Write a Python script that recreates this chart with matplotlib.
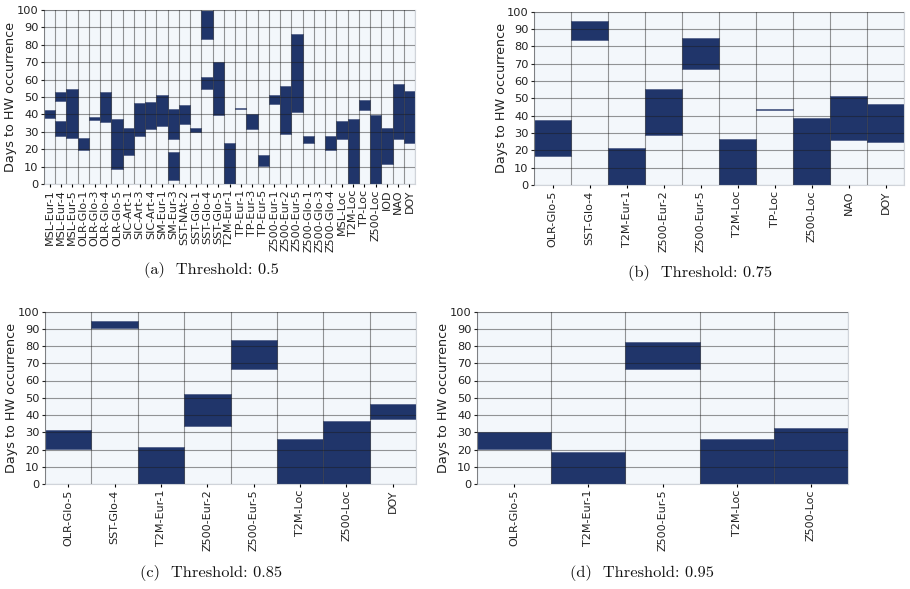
## plot of lead-time windows per predictor, four thresholds
import matplotlib
matplotlib.use('Agg')
import matplotlib.pyplot as plt
import numpy as np

# (a) threshold 0.5
labels_a = ['MSL-Eur-1', 'MSL-Eur-4', 'MSL-Eur-5', 'OLR-Glo-1', 'OLR-Glo-3',
            'OLR-Glo-4', 'OLR-Glo-5', 'SIC-Art-1', 'SIC-Art-3', 'SIC-Art-4',
            'SM-Eur-1', 'SM-Eur-3', 'SST-NAt-2', 'SST-Glo-1', 'SST-Glo-4',
            'SST-Glo-5', 'T2M-Eur-1', 'TP-Eur-1', 'TP-Eur-3', 'TP-Eur-5',
            'Z500-Eur-1', 'Z500-Eur-2', 'Z500-Eur-5', 'Z500-Glo-1', 'Z500-Glo-3',
            'Z500-Glo-4', 'MSL-Loc', 'T2M-Loc', 'TP-Loc', 'Z500-Loc',
            'IOD', 'NAO', 'DOY']
spans_a = [
    [(38, 42.5)],
    [(27.7, 36.4), (47.5, 53)],
    [(26.7, 54.4)],
    [(19.6, 26.6)],
    [(36.6, 38.3)],
    [(35.6, 53)],
    [(8.6, 37.4)],
    [(16.8, 32.4)],
    [(27.7, 46.4)],
    [(31.6, 47.3)],
    [(33.6, 51)],
    [(2.4, 18.2), (25.8, 43.3)],
    [(34.6, 45.2)],
    [(29.6, 32.4)],
    [(54.6, 61.3), (83.6, 100)],
    [(39.8, 70.3)],
    [(0, 23.4)],
    [(43, 43.6)],
    [(31.7, 40.2)],
    [(10.6, 16.5)],
    [(45.7, 51.3)],
    [(28.6, 56.3)],
    [(41.5, 86.4)],
    [(23.5, 27.4)],
    [],
    [(19.4, 27.4)],
    [(25.6, 36.4)],
    [(0, 37.4)],
    [(42.6, 48.3)],
    [(0, 39.5)],
    [(11.6, 32.4)],
    [(25.8, 57.3)],
    [(23.7, 53.4)],
]

# (b) threshold 0.75
labels_b = ['OLR-Glo-5', 'SST-Glo-4', 'T2M-Eur-1', 'Z500-Eur-2', 'Z500-Eur-5',
            'T2M-Loc', 'TP-Loc', 'Z500-Loc', 'NAO', 'DOY']
spans_b = [
    [(16.8, 37.5)],
    [(83.7, 94.6)],
    [(0, 21.3)],
    [(28.7, 55.4)],
    [(66.7, 84.6)],
    [(0, 26.3)],
    [(43, 43.6)],
    [(0, 38.5)],
    [(25.7, 51.3)],
    [(24.7, 46.5)],
]

# (c) threshold 0.85
labels_c = ['OLR-Glo-5', 'SST-Glo-4', 'T2M-Eur-1', 'Z500-Eur-2', 'Z500-Eur-5',
            'T2M-Loc', 'Z500-Loc', 'DOY']
spans_c = [
    [(20.4, 31.2)],
    [(90.7, 94.6)],
    [(0, 21.3)],
    [(33.7, 52.3)],
    [(66.7, 83.6)],
    [(0, 26.3)],
    [(0, 36.3)],
    [(37.6, 46.4)],
]

# (d) threshold 0.95
labels_d = ['OLR-Glo-5', 'T2M-Eur-1', 'Z500-Eur-5', 'T2M-Loc', 'Z500-Loc']
spans_d = [
    [(20.4, 30.3)],
    [(0, 18.3)],
    [(66.6, 82.6)],
    [(0, 26.3)],
    [(0, 32.3)],
]

captions = ['(a)  Threshold: 0.5', '(b)  Threshold: 0.75',
            '(c)  Threshold: 0.85', '(d)  Threshold: 0.95']

BAR_COL = '#20356a'
EDGE_COL = '#56648c'
BG_COL = '#f3f7fb'

W, H = 910, 589

def px_axes(fig, l, r, t, b):
    return fig.add_axes([l / W, 1 - b / H, (r - l) / W, (b - t) / H])

def draw_panel(ax, labels, spans, width_px):
    n = len(labels)
    ax.set_facecolor(BG_COL)
    for i, segs in enumerate(spans):
        for lo, hi in segs:
            ax.bar(i, hi - lo, bottom=lo, width=1.0, color=BAR_COL,
                   edgecolor=EDGE_COL, linewidth=0.6, zorder=1)
    ax.set_xlim(-0.5, n - 0.5)
    ax.set_ylim(0, 100)
    ax.set_yticks(np.arange(0, 101, 10))
    ax.set_xticks(np.arange(n))
    ax.set_xticklabels(labels, rotation=90, fontsize=8, color='#222222')
    ax.set_xticks(np.arange(n + 1) - 0.5, minor=True)
    ax.tick_params(axis='y', labelsize=8.2, length=2.5, pad=1.5, colors='#222222')
    ax.tick_params(axis='x', which='major', length=2, pad=2)
    ax.tick_params(axis='x', which='minor', length=0)
    ax.grid(True, axis='y', which='major', color='#1a1a1a', alpha=0.45, lw=0.8, zorder=3)
    ax.grid(True, axis='x', which='minor', color='#1a1a1a', alpha=0.45, lw=0.8, zorder=3)
    ax.grid(False, axis='x', which='major')
    ax.set_axisbelow(False)
    for s in ax.spines.values():
        s.set_color('#d0d4da')
        s.set_linewidth(0.8)
    ax.set_ylabel('Days to HW occurrence', fontsize=9.2, color='#222222')
    ax.yaxis.set_label_coords(-26.5 / width_px, 0.5)


fig = plt.figure(figsize=(W / 100, H / 100), dpi=100)
fig.patch.set_facecolor('white')

boxes = [(44, 415, 10, 184), (534, 904, 11.5, 185),
         (45, 416, 311.5, 484), (477, 848, 311.5, 484)]
all_labels = [labels_a, labels_b, labels_c, labels_d]
all_spans = [spans_a, spans_b, spans_c, spans_d]

for box, labs, sps in zip(boxes, all_labels, all_spans):
    ax = px_axes(fig, *box)
    draw_panel(ax, labs, sps, box[1] - box[0])

cap_pos = [(211, 270), (700, 273), (211, 573), (642, 573)]
for (cx, cy), txt in zip(cap_pos, captions):
    fig.text(cx / W, 1 - cy / H, txt, ha='center', va='center',
             family='cmr10', fontsize=11.8, color='#111111')

fig.savefig('out.png', dpi=100, facecolor='white')
